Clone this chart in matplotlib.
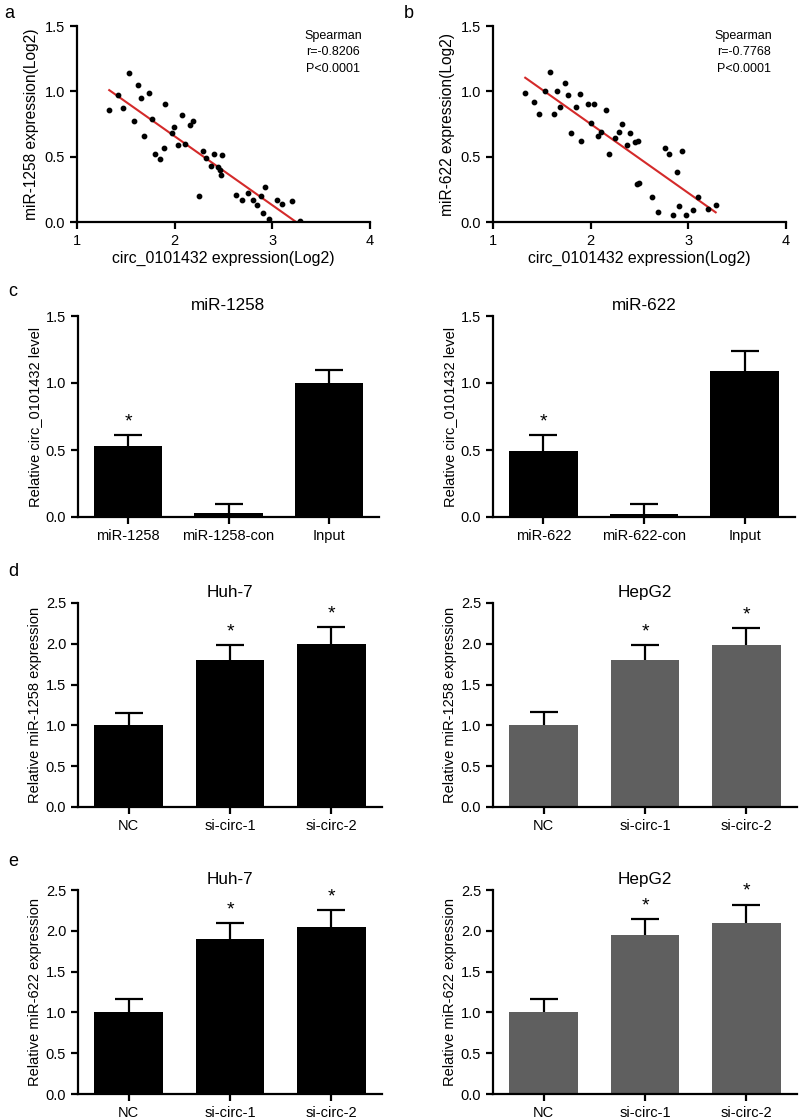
import numpy as np
import matplotlib
matplotlib.use("Agg")
import matplotlib.pyplot as plt

plt.rcParams['font.family'] = ['Liberation Sans', 'DejaVu Sans']

# ---- panel a/b scatter data
a_x = [1.33, 1.42, 1.47, 1.53, 1.58, 1.62, 1.66, 1.69, 1.74, 1.77, 1.80, 1.85, 1.89, 1.90,
       1.97, 1.99, 2.03, 2.07, 2.11, 2.16, 2.19, 2.25, 2.29, 2.32, 2.37, 2.40, 2.44, 2.46,
       2.47, 2.48, 2.63, 2.69, 2.75, 2.80, 2.84, 2.88, 2.90, 2.93, 2.97, 3.05, 3.10, 3.20, 3.28]
a_y = [0.86, 0.97, 0.87, 1.14, 0.77, 1.05, 0.95, 0.66, 0.99, 0.79, 0.52, 0.48, 0.57, 0.90,
       0.68, 0.73, 0.59, 0.82, 0.60, 0.74, 0.77, 0.20, 0.54, 0.49, 0.43, 0.52, 0.42, 0.40,
       0.36, 0.51, 0.21, 0.17, 0.22, 0.17, 0.13, 0.20, 0.07, 0.27, 0.02, 0.17, 0.14, 0.16, 0.01]
b_x = [1.33, 1.42, 1.47, 1.53, 1.58, 1.62, 1.66, 1.69, 1.74, 1.77, 1.80, 1.85, 1.89, 1.90,
       1.97, 2.00, 2.03, 2.07, 2.11, 2.16, 2.19, 2.25, 2.29, 2.32, 2.37, 2.40, 2.45, 2.48,
       2.47, 2.49, 2.63, 2.69, 2.76, 2.80, 2.84, 2.88, 2.90, 2.94, 2.98, 3.05, 3.10, 3.20, 3.28]
b_y = [0.99, 0.92, 0.83, 1.00, 1.15, 0.83, 1.00, 0.88, 1.06, 0.97, 0.68, 0.88, 0.98, 0.62,
       0.90, 0.76, 0.90, 0.66, 0.69, 0.86, 0.52, 0.64, 0.69, 0.75, 0.59, 0.68, 0.61, 0.62,
       0.29, 0.30, 0.19, 0.08, 0.57, 0.52, 0.05, 0.38, 0.12, 0.54, 0.05, 0.09, 0.19, 0.10, 0.13]

# ---- panel c
c_left_cats = ['miR-1258', 'miR-1258-con', 'Input']
c_left_vals = [0.53, 0.03, 1.00]
c_left_err = [0.08, 0.07, 0.10]
c_right_cats = ['miR-622', 'miR-622-con', 'Input']
c_right_vals = [0.49, 0.02, 1.09]
c_right_err = [0.12, 0.08, 0.15]

# ---- panels d/e
si_cats = ['NC', 'si-circ-1', 'si-circ-2']
d_huh7_vals = [1.00, 1.80, 2.00]
d_huh7_err = [0.15, 0.18, 0.20]
d_hepg2_vals = [1.00, 1.80, 1.98]
d_hepg2_err = [0.16, 0.18, 0.21]
e_huh7_vals = [1.00, 1.90, 2.05]
e_huh7_err = [0.16, 0.19, 0.20]
e_hepg2_vals = [1.00, 1.95, 2.10]
e_hepg2_err = [0.16, 0.19, 0.22]

W, H = 800, 1118
fig = plt.figure(figsize=(W / 100, H / 100), dpi=100)


def add_ax(left, top, right, bottom):
    return fig.add_axes([left / W, 1 - bottom / H, (right - left) / W, (bottom - top) / H])


def style(ax):
    for s in ['top', 'right']:
        ax.spines[s].set_visible(False)
    for s in ['left', 'bottom']:
        ax.spines[s].set_linewidth(1.6)
    ax.tick_params(width=1.6, length=5, labelsize=10.5, direction='out')


def scatter_panel(ax, x, y, ylabel, r, tx):
    x = np.array(x)
    y = np.array(y)
    ax.scatter(x, y, s=10, color='black', zorder=3)
    k, b = np.polyfit(x, y, 1)
    xs = np.array([x.min(), x.max()])
    ax.plot(xs, k * xs + b, color='#d42a2a', lw=1.5, zorder=2)
    ax.set_xlim(1, 4)
    ax.set_ylim(0, 1.5)
    ax.set_xticks([1, 2, 3, 4])
    ax.set_yticks([0, 0.5, 1.0, 1.5])
    ax.set_yticklabels(['0.0', '0.5', '1.0', '1.5'])
    ax.set_xlabel('circ_0101432 expression(Log2)', fontsize=11.4, labelpad=2)
    ax.set_ylabel(ylabel, fontsize=11.2, labelpad=4)
    ax.text(tx, 0.98, 'Spearman\nr=' + r + '\nP<0.0001', transform=ax.transAxes,
            ha='center', va='top', fontsize=9, linespacing=1.5)
    style(ax)


def bar_panel(ax, cats, vals, err, color, title, ylabel, ymax, stars):
    pos = np.arange(len(cats))
    ax.bar(pos, vals, width=0.68, color=color, zorder=2)
    eb = ax.errorbar(pos, vals, yerr=[np.zeros(len(vals)), err], fmt='none', ecolor='black',
                     elinewidth=1.6, capsize=10, capthick=1.6, zorder=1)
    # only the upper cap is visible in the original
    eb[1][0].set_visible(False)
    for i in stars:
        ax.text(pos[i], vals[i] + err[i] + ymax * 0.025, '*', ha='center', va='bottom', fontsize=14)
    ax.set_xlim(-0.5, len(cats) - 0.5)
    ax.set_ylim(0, ymax)
    ax.set_xticks(pos)
    ax.set_xticklabels(cats, fontsize=10)
    yt = np.arange(0, ymax + 0.01, 0.5)
    ax.set_yticks(yt)
    ax.set_yticklabels(['%.1f' % v for v in yt])
    ax.set_title(title, fontsize=12.3, pad=4)
    ax.set_ylabel(ylabel, fontsize=10.5, labelpad=3)
    style(ax)


ax_a = add_ax(77, 26, 370, 222)
scatter_panel(ax_a, a_x, a_y, 'miR-1258 expression(Log2)', '-0.8206', 0.875)
ax_b = add_ax(493, 26, 786, 222)
scatter_panel(ax_b, b_x, b_y, 'miR-622 expression(Log2)', '-0.7768', 0.855)

black = '#000000'
gray = '#5f5f5f'
ax = add_ax(78, 316, 379, 517)
bar_panel(ax, c_left_cats, c_left_vals, c_left_err, black, 'miR-1258',
          'Relative circ_0101432 level', 1.5, [0])
ax = add_ax(493, 316, 795, 517)
bar_panel(ax, c_right_cats, c_right_vals, c_right_err, black, 'miR-622',
          'Relative circ_0101432 level', 1.5, [0])

ax = add_ax(78, 603, 382, 807)
bar_panel(ax, si_cats, d_huh7_vals, d_huh7_err, black, 'Huh-7',
          'Relative miR-1258 expression', 2.5, [1, 2])
ax = add_ax(493, 603, 797, 807)
bar_panel(ax, si_cats, d_hepg2_vals, d_hepg2_err, gray, 'HepG2',
          'Relative miR-1258 expression', 2.5, [1, 2])

ax = add_ax(78, 890, 382, 1094)
bar_panel(ax, si_cats, e_huh7_vals, e_huh7_err, black, 'Huh-7',
          'Relative miR-622 expression', 2.5, [1, 2])
ax = add_ax(493, 890, 797, 1094)
bar_panel(ax, si_cats, e_hepg2_vals, e_hepg2_err, gray, 'HepG2',
          'Relative miR-622 expression', 2.5, [1, 2])

for letter, x, y in [('a', 4, 14), ('b', 404, 14), ('c', 8, 292), ('d', 8, 572), ('e', 8, 862)]:
    fig.text(x / W, 1 - y / H, letter, fontsize=13, ha='left', va='center')

fig.savefig('out.png', dpi=100)
